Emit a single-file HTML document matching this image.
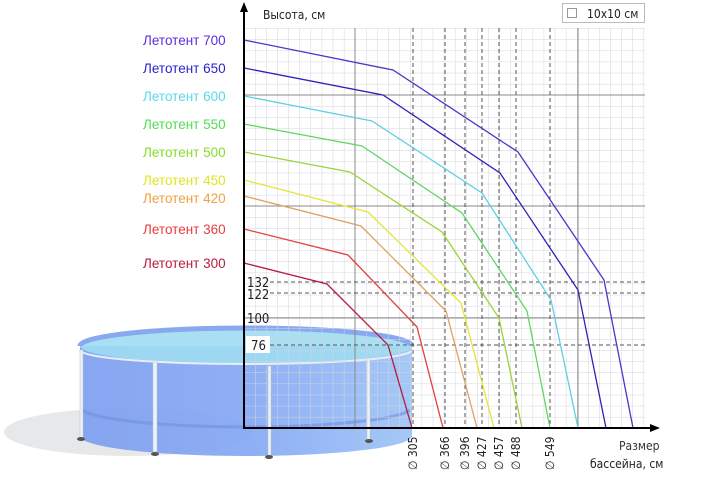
<!DOCTYPE html>
<html><head><meta charset="utf-8"><style>
html,body{margin:0;padding:0;background:#fff;}
svg{display:block;font-family:"DejaVu Sans Condensed","Liberation Sans",sans-serif;}
</style></head><body>
<svg width="720" height="478" viewBox="0 0 720 478" xmlns="http://www.w3.org/2000/svg">
<defs>
<pattern id="g" x="244" y="428" width="11.1" height="11.1" patternUnits="userSpaceOnUse">
<path d="M0 0H11.1M0 0V11.1" stroke="#d4d4dc" stroke-width="1" fill="none"/>
</pattern>
<linearGradient id="body" x1="0" x2="1" y1="0" y2="0">
<stop offset="0" stop-color="#7f9ff0"/><stop offset="0.5" stop-color="#86a8f4"/><stop offset="1" stop-color="#9ec4f6"/>
</linearGradient>
</defs>
<!-- pool -->
<ellipse cx="128" cy="432" rx="124" ry="24" fill="#e6e8ea"/>
<path d="M80 346 L80 436 A166 20 0 0 0 412 436 L412 346 Z" fill="url(#body)" opacity="0.93"/>
<ellipse cx="246" cy="346" rx="166" ry="18" fill="#9fdcf2" opacity="0.9"/>
<path d="M80 346 A166 18 0 0 1 412 346" fill="none" stroke="#88a8f0" stroke-width="5"/>
<path d="M80 350 A166 14 0 0 0 412 350" fill="none" stroke="#e8eef6" stroke-width="2"/>
<path d="M82 410 A166 20 0 0 0 410 410" fill="none" stroke="#6f8fe0" stroke-width="3" opacity="0.6"/>
<g fill="#eef2f6" stroke="#b8c4d0" stroke-width="0.5">
<rect x="80" y="350" width="3" height="88"/><rect x="153" y="362" width="4" height="90"/>
<rect x="268" y="366" width="3" height="90"/><rect x="367" y="358" width="3" height="82"/>
</g>
<g fill="#555"><ellipse cx="81" cy="439" rx="4" ry="2"/><ellipse cx="155" cy="454" rx="4" ry="2"/><ellipse cx="269" cy="457" rx="4" ry="2"/><ellipse cx="369" cy="441" rx="4" ry="2"/></g>
<!-- grid over pool -->
<rect x="244" y="28" width="401" height="400" fill="url(#g)"/>
<g stroke="#8a8a8a" stroke-width="1">
<line x1="355" y1="28" x2="355" y2="428"/><line x1="578" y1="28" x2="578" y2="428"/>
<line x1="244" y1="95" x2="645" y2="95"/><line x1="244" y1="206" x2="645" y2="206"/><line x1="244" y1="318" x2="645" y2="318"/>
</g>
<g stroke="#555" stroke-width="1" stroke-dasharray="4,3">
<line x1="413" y1="28" x2="413" y2="428"/><line x1="445" y1="28" x2="445" y2="428"/>
<line x1="465" y1="28" x2="465" y2="428"/><line x1="482" y1="28" x2="482" y2="428"/>
<line x1="499" y1="28" x2="499" y2="428"/><line x1="516" y1="28" x2="516" y2="428"/>
<line x1="550" y1="28" x2="550" y2="428"/>
<line x1="270" y1="282" x2="645" y2="282"/><line x1="270" y1="293" x2="645" y2="293"/>
<line x1="270" y1="345" x2="645" y2="345"/>
</g>
<!-- series -->
<g fill="none" stroke-width="1.3">
<polyline stroke="#4a36c8" points="244,40 393,70 518,152 604,280 633,428"/>
<polyline stroke="#2c24b4" points="244,68 383,95 500,173 578,290 606,428"/>
<polyline stroke="#5fd0e0" points="244,96 372,121 482,193 551,300 578,428"/>
<polyline stroke="#5fd85f" points="244,124 362,146 462,213 527,311 550,428"/>
<polyline stroke="#9ed23a" points="244,152 350,172 442,232 499,318 522,428"/>
<polyline stroke="#e2e63a" points="244,180 368,212 461,303 494,428"/>
<polyline stroke="#e0a060" points="244,196 361,226 446,311 477,428"/>
<polyline stroke="#e04040" points="244,229 348,255 417,327 443,428"/>
<polyline stroke="#b01c3c" points="244,263 327,284 388,345 412,428"/>
</g>
<!-- axes -->
<g stroke="#000" stroke-width="2">
<line x1="244" y1="10" x2="244" y2="428"/><line x1="243" y1="428" x2="652" y2="428"/>
</g>
<path d="M244 2 L240 12 L248 12 Z" fill="#000"/>
<path d="M660 428 L650 424 L650 432 Z" fill="#000"/>
<text x="263" y="19" font-size="12" fill="#222">Высота, см</text>
<rect x="562.5" y="3.5" width="82" height="19" fill="#fff" stroke="#bbb"/>
<rect x="567.5" y="8.5" width="9" height="9" fill="#fff" stroke="#999"/>
<text x="587" y="18" font-size="12" fill="#222">10x10 см</text>
<g font-size="13" fill="#222">
<rect x="246" y="336" width="24" height="17" fill="#fff"/>
<text x="247" y="287">132</text><text x="247" y="299">122</text>
<text x="247" y="323">100</text><text x="251" y="350">76</text>
</g>
<g font-size="12" fill="#222">
<text transform="translate(417,470) rotate(-90)">∅ 305</text>
<text transform="translate(449,470) rotate(-90)">∅ 366</text>
<text transform="translate(469,470) rotate(-90)">∅ 396</text>
<text transform="translate(486,470) rotate(-90)">∅ 427</text>
<text transform="translate(503,470) rotate(-90)">∅ 457</text>
<text transform="translate(520,470) rotate(-90)">∅ 488</text>
<text transform="translate(554,470) rotate(-90)">∅ 549</text>
</g>
<text x="619" y="450" font-size="12" fill="#333">Размер</text>
<text x="590" y="468" font-size="12" fill="#222">бассейна, см</text>
<g font-family="Liberation Sans, sans-serif" font-size="13.5">
<text x="143" y="45" fill="#5a2ee0">Летотент 700</text>
<text x="143" y="73" fill="#2a1fd0">Летотент 650</text>
<text x="143" y="101" fill="#5cd6ee">Летотент 600</text>
<text x="143" y="129" fill="#52dc52">Летотент 550</text>
<text x="143" y="157" fill="#88dc28">Летотент 500</text>
<text x="143" y="185" fill="#e2e41c">Летотент 450</text>
<text x="143" y="203" fill="#f0a040">Летотент 420</text>
<text x="143" y="234" fill="#e83c3c">Летотент 360</text>
<text x="143" y="268" fill="#b81c3c">Летотент 300</text>
</g>
</svg>
</body></html>
